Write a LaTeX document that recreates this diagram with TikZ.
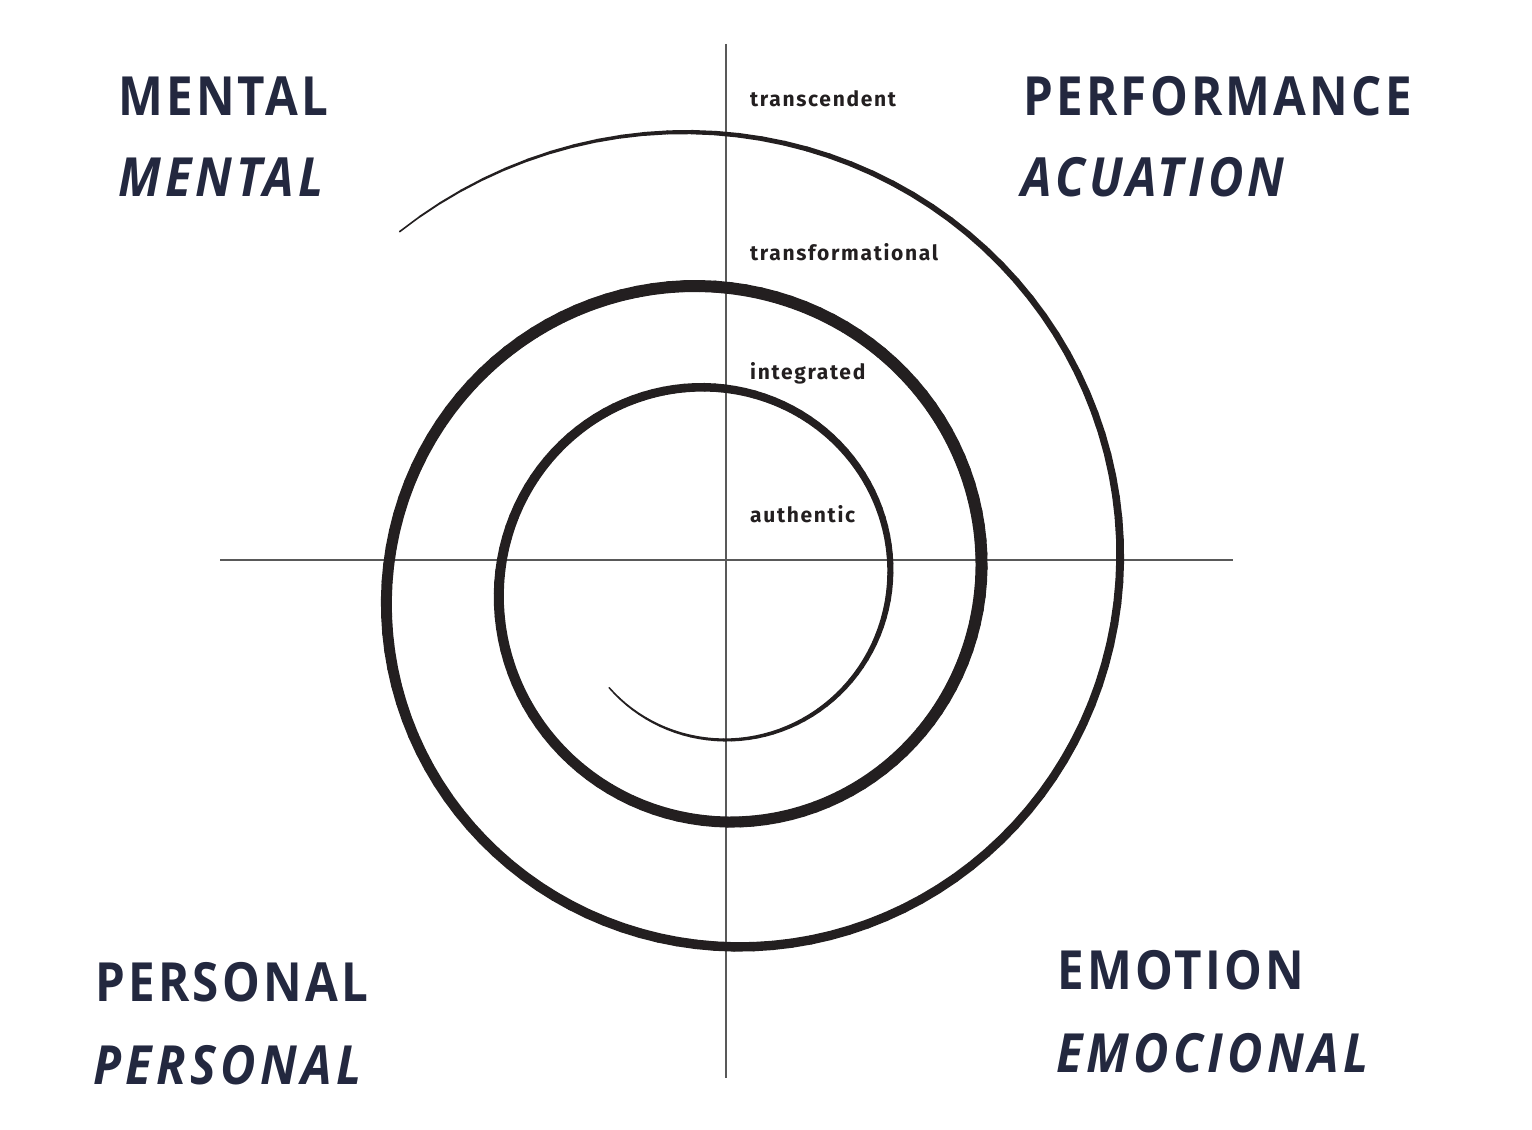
\documentclass[tikz,border=0pt]{standalone}
\usepackage{fontspec}
\usepackage{tikz}
\usetikzlibrary{calc,positioning}
\newfontfamily\headfont[FakeStretch=0.88,LetterSpace=6]{Open Sans}
\newfontfamily\headitfont[FakeStretch=0.9,LetterSpace=8]{Open Sans}
\newfontfamily\levelfont[LetterSpace=8]{Fira Sans}
\definecolor{navy}{HTML}{23283F}
\definecolor{ink}{HTML}{231F20}

\begin{document}
\begin{tikzpicture}[x=1pt,y=1pt,
  axis/.style={draw=black!65,line width=1.6pt},
  spiral/.style={draw=ink,line cap=round},
  head/.style={anchor=base west,inner sep=0pt,text=navy,font=\headfont\bfseries\fontsize{54}{54}\selectfont},
  headit/.style={head,font=\headitfont\bfseries\itshape\fontsize{54}{54}\selectfont},
  level/.style={anchor=base west,inner sep=0pt,text=ink,font=\levelfont\bfseries\fontsize{21}{21}\selectfont}]
\useasboundingbox (0,0) rectangle (1532,1130);
% axes
\coordinate (west) at (220,570);
\coordinate (east) at (1233,570);
\coordinate (north) at (726,1086);
\coordinate (south) at (726,52);
\draw[axis] (west) -- (east);
\draw[axis] (north) -- (south);
% spiral, width grows then shrinks
\coordinate (ctr) at (715,548);
\foreach \ta/\wa/\tb/\wb in {225/1.5/270/3,270/3/360/6,360/6/450/8.5,450/8.5/540/10,540/10/630/11,630/11/720/12,720/12/810/12,810/12/900/11,900/11/990/9.5,990/9.5/1080/8,1080/8/1170/4.5,1170/4.5/1212/1.5} {
  \pgfmathtruncatemacro\nseg{max(2,round((\tb-\ta)/3))}
  \foreach \s in {1,...,\nseg} {
    \pgfmathsetmacro\tone{\ta+(\tb-\ta)*(\s-1)/\nseg}
    \pgfmathsetmacro\ttwo{\ta+(\tb-\ta)*\s/\nseg}
    \pgfmathsetmacro\wd{\wa+(\wb-\wa)*(\s-0.5)/\nseg}
    \pgfmathsetmacro\rone{175*exp(0.41871*(\tone-360)/360)}
    \pgfmathsetmacro\rtwo{175*exp(0.41871*(\ttwo-360)/360)}
    \draw[spiral,line width=\wd pt] ($(ctr)+(\tone:\rone)$) -- ($(ctr)+(\ttwo:\rtwo)$);
  }
}
% levels
\node[level] (transc) at (750,1023) {transcendent};
\node[level] (transf) at (750,869) {transformational};
\node[level] (integ) at (750,750) {integrated};
\node[level] (authen) at (750,607) {authentic};
% quadrants
\node[head] (mental) at (118,1014) {MENTAL};
\node[headit] (mentalit) at (118,933) {MENTAL};
\node[head] (perf) at (1023,1014) {PERFORMANCE};
\node[headit] (perfit) at (1021,933) {ACUATION};
\node[head] (pers) at (95,128) {PERSONAL};
\node[headit] (persit) at (93,45) {PERSONAL};
\node[head] (emot) at (1057,140) {EMOTION};
\node[headit] (emotit) at (1056,57) {EMOCIONAL};
\end{tikzpicture}
\end{document}
